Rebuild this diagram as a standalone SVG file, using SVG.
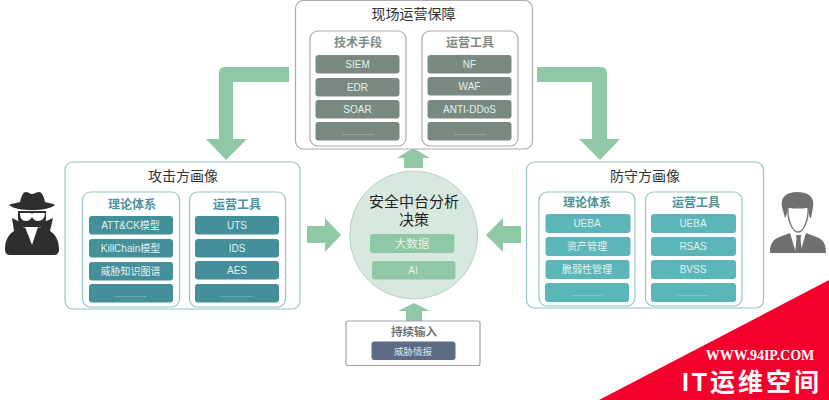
<svg xmlns="http://www.w3.org/2000/svg" width="829" height="400" viewBox="0 0 829 400">
<style>
text{font-family:"Liberation Sans","Noto Sans CJK SC",sans-serif;text-anchor:middle}
.panel{fill:#fff;stroke-width:1.2}
.t{font-size:14px;fill:#333}
.st{font-size:12px;font-weight:700}
.b{font-size:10px;fill:#e4efee}
.d{font-size:8px;fill:#dcebe9}
.teal{stroke:#95c3c5}
.a rect.bar{fill:#43909a}
.g rect.bar{fill:#78897f}
.c rect.bar{fill:#5bb6b9}
.a .st{fill:#4d929b}.c .st{fill:#4d929b}.g .st{fill:#7f8b85}
.arrow{fill:#90c7a5}
</style>
<rect id="bg" width="829" height="400" fill="#fff"/>
<g id="connectors" class="arrow">
<path d="M289 67H225Q219 67 219 73V139H206L226 160L247 139H233V82H289Z"/>
<path d="M537 67H601Q607 67 607 73V139H620L600 160L579 139H592V82H537Z"/>
<path d="M404 168V158H397L413 148L430 158H423V168Z"/>
<path d="M307 226H325V218L341 235L325 252V243H307Z"/>
<path d="M521 226H503V218L486 235L503 252V243H521Z"/>
<path d="M406 321V311H398L414 303L430 311H422V321Z"/>
</g>
<g id="node-top" class="g">
<rect class="panel" x="295.500" y="0.500" width="237" height="148.500" rx="8" stroke="#aaa"/>
<text class="t" x="413.500" y="19">现场运营保障</text>
<rect class="panel" x="310" y="31" width="96" height="115" rx="8" stroke="#aaa"/>
<rect class="panel" x="422" y="31" width="96" height="115" rx="8" stroke="#aaa"/>
<text class="st" x="358" y="47">技术手段</text>
<text class="st" x="470" y="47">运营工具</text>
<rect class="bar" x="315.500" y="55" width="84" height="18.500" rx="3"/>
<rect class="bar" x="315.500" y="78" width="84" height="18.500" rx="3"/>
<rect class="bar" x="315.500" y="100" width="84" height="18.500" rx="3"/>
<rect class="bar" x="315.500" y="122" width="84" height="18.500" rx="3"/>
<rect class="bar" x="427.500" y="55" width="84" height="18.500" rx="3"/>
<rect class="bar" x="427.500" y="77" width="84" height="18.500" rx="3"/>
<rect class="bar" x="427.500" y="100" width="84" height="18.500" rx="3"/>
<rect class="bar" x="427.500" y="122" width="84" height="18.500" rx="3"/>
<text class="b" x="357.500" y="68">SIEM</text>
<text class="b" x="357.500" y="91">EDR</text>
<text class="b" x="357.500" y="113">SOAR</text>
<text class="d" x="357.500" y="135">…………</text>
<text class="b" x="469.500" y="68">NF</text>
<text class="b" x="469.500" y="90">WAF</text>
<text class="b" x="469.500" y="113">ANTI-DDoS</text>
<text class="d" x="469.500" y="135">…………</text>
</g>
<g id="node-attack" class="a">
<rect class="panel teal" x="65" y="162" width="235" height="147" rx="8"/>
<text class="t" x="183" y="181">攻击方画像</text>
<rect class="panel teal" x="82.500" y="192" width="97" height="115" rx="8"/>
<rect class="panel teal" x="189.500" y="192" width="96" height="115" rx="8"/>
<text class="st" x="132" y="209">理论体系</text>
<text class="st" x="237" y="209">运营工具</text>
<rect class="bar" x="89" y="216" width="84" height="18.500" rx="3"/>
<rect class="bar" x="89" y="239" width="84" height="18.500" rx="3"/>
<rect class="bar" x="89" y="262" width="84" height="18.500" rx="3"/>
<rect class="bar" x="89" y="284" width="84" height="18.500" rx="3"/>
<rect class="bar" x="195" y="216" width="84" height="18.500" rx="3"/>
<rect class="bar" x="195" y="239" width="84" height="18.500" rx="3"/>
<rect class="bar" x="195" y="261" width="84" height="18.500" rx="3"/>
<rect class="bar" x="195" y="284" width="84" height="18.500" rx="3"/>
<text class="b" x="130.500" y="229">ATT&amp;CK模型</text>
<text class="b" x="130.500" y="252">KillChain模型</text>
<text class="b" x="130.500" y="275">威胁知识图谱</text>
<text class="d" x="130.500" y="297">…………</text>
<text class="b" x="237" y="229">UTS</text>
<text class="b" x="237" y="252">IDS</text>
<text class="b" x="237" y="274">AES</text>
<text class="d" x="237" y="297">…………</text>
</g>
<g id="node-defense" class="c">
<rect class="panel teal" x="526.500" y="162" width="237" height="146" rx="8"/>
<text class="t" x="645" y="181">防守方画像</text>
<rect class="panel teal" x="539" y="192" width="96" height="114" rx="8"/>
<rect class="panel teal" x="645.500" y="192" width="96.500" height="114" rx="8"/>
<text class="st" x="587" y="207">理论体系</text>
<text class="st" x="696" y="207">运营工具</text>
<rect class="bar" x="545.500" y="214" width="85" height="19" rx="3"/>
<rect class="bar" x="545.500" y="237" width="85" height="19" rx="3"/>
<rect class="bar" x="545.500" y="260" width="84" height="19" rx="3"/>
<rect class="bar" x="545" y="283" width="84" height="19" rx="3"/>
<rect class="bar" x="651" y="214" width="85" height="19" rx="3"/>
<rect class="bar" x="651" y="237" width="85" height="19" rx="3"/>
<rect class="bar" x="651" y="260" width="85" height="19" rx="3"/>
<rect class="bar" x="651" y="283" width="85" height="19" rx="3"/>
<text class="b" x="587" y="227">UEBA</text>
<text class="b" x="587" y="250">资产管理</text>
<text class="b" x="587" y="273">脆弱性管理</text>
<text class="d" x="587" y="296">…………</text>
<text class="b" x="693" y="227">UEBA</text>
<text class="b" x="693" y="250">RSAS</text>
<text class="b" x="693" y="273">BVSS</text>
<text class="d" x="693" y="296">…………</text>
</g>
<g id="node-center">
<circle cx="413.700" cy="235" r="64" fill="#d7e9de" stroke="#b5d3c0"/>
<text x="414" y="207" font-size="15" fill="#222">安全中台分析</text>
<text x="414" y="225" font-size="15" fill="#222">决策</text>
<rect x="370" y="234" width="84.500" height="19" rx="3" fill="#90c7a5"/>
<rect x="372" y="261" width="83.500" height="18.500" rx="3" fill="#90c7a5"/>
<text x="412" y="248" font-size="11.500" fill="#e8f3ec">大数据</text>
<text x="413" y="274" font-size="10" fill="#e8f3ec">AI</text>
</g>
<g id="node-input">
<rect x="346" y="321" width="134" height="44.500" rx="2" fill="#fff" stroke="#a0a3ad" stroke-width="1.200"/>
<text x="414" y="336" font-size="11.500" font-weight="700" fill="#6d7378">持续输入</text>
<rect x="371.500" y="341.500" width="84" height="18.500" rx="3" fill="#5d6b85"/>
<text x="413" y="355" font-size="9.500" fill="#dfe3ea">威胁情报</text>
</g>
<g id="node-hacker">
<path fill="#2e2e2e" d="M9 205C13 203 18 203 20 202C21 197 23 192 26 192C28 192 30 194 32 194C34 194 37 192 39 192C42 192 44 197 45 202C47 203 52 203 55 205C50 209 42 210 32 210C22 210 14 209 9 205Z"/>
<path fill="#2e2e2e" d="M18 211H46V219C46 224 40 229 32 229C24 229 18 224 18 219Z"/>
<path fill="#2e2e2e" d="M12 218L20 222L24 228H40L44 222L53 218L50 231C55 234 59 240 59 249Q59 255 54 255H10Q5 255 5 249C5 240 9 234 14 231Z"/>
<path fill="#fff" d="M20 213H31L32 214L33 213H45C45 218 42 221 38 221C35 221 33 219 32 217C31 219 29 221 26 221C22 221 20 218 20 213Z"/>
<path fill="#fff" d="M25 227H38L32 245Z"/>
</g>
<g id="node-defender" fill="#6f6f6f">
<path d="M782 207C780 197 787 192 797 192C808 192 815 197 813 207L811 218C809 218 809 212 808 208C802 208 794 207 788 208C787 212 786 218 785 218Z"/>
<path fill="#fff" stroke="#6f6f6f" stroke-width="1.300" d="M788 207C794 208 802 208 808 207C809 221 803 232 798 232C793 232 787 221 788 207Z"/>
<path d="M770 253C770 243 773 239 782 236L790 233L796 253ZM826 253C826 243 823 239 814 236L806 233L800 253Z"/>
<path d="M796 235H801L800.500 239L802 253H795L796.500 239Z"/>
</g>
<g id="watermark">
<path d="M829 280V400H599Z" fill="#f5002d"/>
<text x="760" y="360" font-size="14" font-weight="700" fill="#fff" style="font-family:'Liberation Serif',serif">WWW.94IP.COM</text>
<text x="752" y="391" font-size="25" font-weight="700" letter-spacing="3" fill="#fff">IT运维空间</text>
</g>
</svg>
